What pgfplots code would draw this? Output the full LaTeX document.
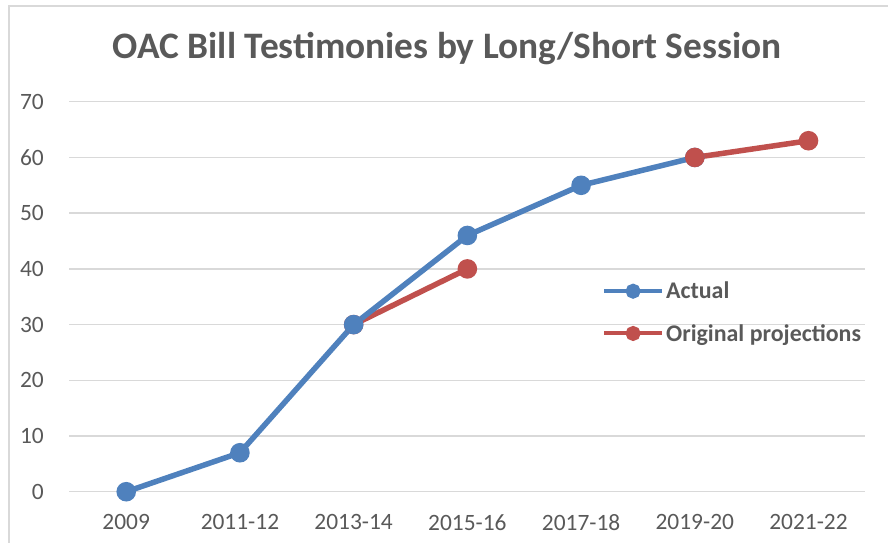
\documentclass[border=0pt]{standalone}
\usepackage{fontspec}
\setmainfont{Carlito}
\usepackage{pgfplots}
\pgfplotsset{compat=1.18}
\definecolor{TxtGray}{HTML}{595959}
\definecolor{GridGray}{HTML}{D9D9D9}
\definecolor{Blu}{HTML}{4F81BD}
\definecolor{Rd}{HTML}{C0504D}
\begin{document}
\begin{tikzpicture}[x=1bp,y=1bp]
\useasboundingbox (0,0) rectangle (888,543);
% chart frame (only left and top edges show)
\draw[GridGray, line width=1.5bp] (9,0) -- (9,537) -- (888,537);
\node[font=\bfseries\fontsize{37.5}{42}\selectfont, text=TxtGray] at (447,494) {OAC Bill Testimonies by Long/Short Session};
\begin{axis}[
  at={(61,92)}, anchor=south west,
  scale only axis, width=796bp, height=390bp,
  xmin=-0.5, xmax=6.5, ymin=0, ymax=70,
  xtick={0,...,6},
  xticklabels={2009,2011-12,2013-14,2015-16,2017-18,2019-20,2021-22},
  ytick={0,10,...,70},
  axis line style={draw=none},
  major tick length=0pt,
  ymajorgrids, grid style={GridGray, line width=1.5bp},
  /pgf/number format/assume math mode=true,
  ticklabel style={font=\fontsize{23.5}{27}\selectfont, text=TxtGray},
  yticklabel style={xshift=-22bp},
  xticklabel style={yshift=-19bp},
  legend style={at={(0.669,0.46)}, anchor=west, draw=none, fill=none,
    font=\bfseries\fontsize{24}{28}\selectfont, text=TxtGray,
    row sep=20bp, inner sep=0pt},
  legend cell align=left,
  legend image code/.code={
    \draw[#1, line width=4bp, mark size=5.5bp, mark repeat=2, mark phase=2] plot coordinates {(0bp,0bp) (29bp,0bp) (58bp,0bp)};
  },
  every axis plot/.append style={line width=5.5bp, mark=*, mark size=7bp, mark options={solid, line width=0pt}},
]
\addplot[Rd, mark options={fill=Rd, draw=Rd}, forget plot] coordinates {(2,30) (3,40)};
\addplot[Blu, mark options={fill=Blu, draw=Blu}] coordinates {(0,0) (1,7) (2,30) (3,46) (4,55) (5,60)};
\addlegendentry{Actual}
\addplot[Rd, mark options={fill=Rd, draw=Rd}] coordinates {(5,60) (6,63)};
\addlegendentry{Original projections}
\end{axis}
\end{tikzpicture}
\end{document}
